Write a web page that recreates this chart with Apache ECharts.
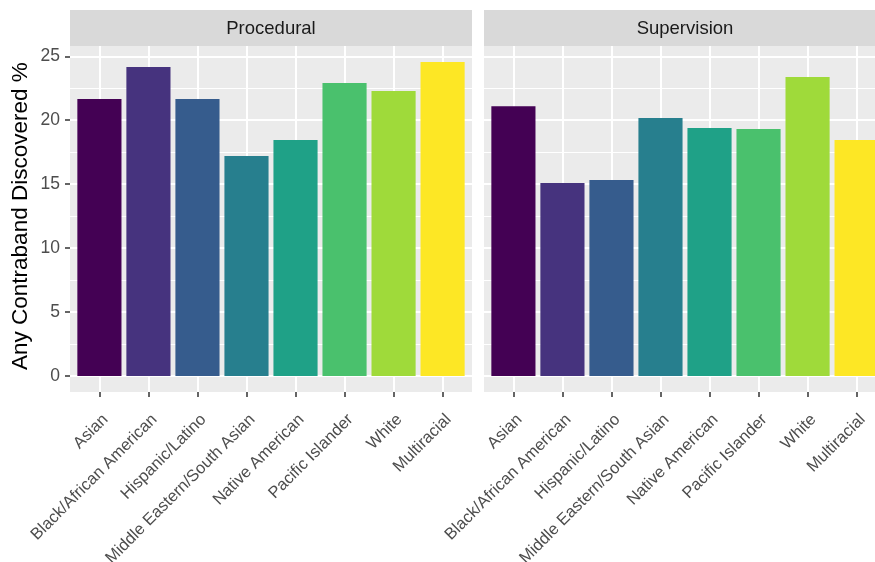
<!DOCTYPE html>
<html>
<head>
<meta charset="utf-8">
<script src="https://cdn.jsdelivr.net/npm/echarts@6/dist/echarts.min.js"></script>
<style>
html,body{margin:0;padding:0;background:#fff;}
#chart{width:875px;height:562px;}
</style>
</head>
<body>
<div id="chart"></div>
<script>
const categories = ['Asian','Black/African American','Hispanic/Latino','Middle Eastern/South Asian','Native American','Pacific Islander','White','Multiracial'];
const panelNames = ['Procedural','Supervision'];
const procedural = [21.66, 24.16, 21.66, 17.2, 18.45, 22.9, 22.28, 24.55];
const supervision = [21.1, 15.09, 15.32, 20.17, 19.39, 19.31, 23.38, 18.45];
const yTicks = [0, 5, 10, 15, 20, 25];
const palette = ['#440154','#46337E','#365C8D','#277F8E','#1FA187','#4AC16D','#9FDA3A','#FDE725'];
const seriesValues = [procedural, supervision];

const FONT = '"Liberation Sans", Arial, Helvetica, sans-serif';
const panelLeft = [70, 484];
const panelW = 402;
const panelTop = 46, panelH = 346;
const stripTop = 10, stripH = 36;
const unit = panelW / 8.2;
const yMax = yTicks[yTicks.length - 1];
const zeroY = 376, pxPerUnit = 12.79;
const dataTop = zeroY - yMax * pxPerUnit;
const dataH = yMax * pxPerUnit;

const grid = [], xAxis = [], yAxis = [], series = [], elements = [];

function box(left, top, width, height) {
  return {left:left, top:top, width:width, height:height, containLabel:false, outerBoundsMode:'none'};
}

panelNames.forEach((name, p) => {
  const L = panelLeft[p];
  elements.push({type:'rect', z:-5, shape:{x:L, y:panelTop, width:panelW, height:panelH}, style:{fill:'#EBEBEB'}});
  elements.push({type:'rect', z:-5, shape:{x:L, y:stripTop, width:panelW, height:stripH}, style:{fill:'#D9D9D9'}});
  elements.push({type:'text', z:5, x:L + panelW/2, y:stripTop + stripH/2 + 1, style:{text:name, fill:'#1A1A1A', font:'18.5px ' + FONT, textAlign:'center', textVerticalAlign:'middle'}});

  const gi = grid.length;
  grid.push(box(L, dataTop, panelW, dataH));
  xAxis.push({type:'value', gridIndex:gi, min:0.4, max:8.6, show:false});
  yAxis.push({
    type:'value', gridIndex:gi, min:yTicks[0], max:yMax, interval:5,
    axisLine:{show:false},
    axisTick:{show:p===0, length:5, lineStyle:{color:'#333333', width:1.5}},
    axisLabel:{show:p===0, color:'#4D4D4D', fontSize:17.5, fontFamily:FONT, margin:10},
    splitLine:{show:true, lineStyle:{color:'#FFFFFF', width:2}},
    minorTick:{show:false, splitNumber:2},
    minorSplitLine:{show:true, lineStyle:{color:'#FFFFFF', width:1}},
    name: p===0 ? 'Any Contraband Discovered %' : '',
    nameLocation:'middle', nameGap:38,
    nameTextStyle:{color:'#000000', fontSize:22.5, fontFamily:FONT}
  });
  series.push({
    type:'bar', xAxisIndex:gi, yAxisIndex:gi, barWidth:unit*0.9, z:3,
    data: seriesValues[p].map((v, i) => ({value:[i + 1, v], itemStyle:{color:palette[i]}}))
  });

  const vi = grid.length;
  grid.push(box(L + 0.6*unit, panelTop, 7*unit, panelH));
  xAxis.push({type:'category', gridIndex:vi, data:categories, boundaryGap:false,
    axisLine:{show:false},
    axisTick:{show:true, length:5, interval:0, lineStyle:{color:'#333333', width:1.5}},
    axisLabel:{show:false},
    splitLine:{show:true, interval:0, lineStyle:{color:'#FFFFFF', width:2}}
  });
  yAxis.push({type:'value', gridIndex:vi, show:false});
  series.push({type:'line', xAxisIndex:vi, yAxisIndex:vi, data:[], silent:true});

  const li = grid.length;
  grid.push(box(L + 0.6*unit + 6, panelTop, 7*unit, panelH));
  xAxis.push({type:'category', gridIndex:li, data:categories, boundaryGap:false,
    axisLine:{show:false}, axisTick:{show:false}, splitLine:{show:false},
    axisLabel:{show:true, interval:0, rotate:45, margin:25, color:'#4D4D4D', fontSize:16.5, fontFamily:FONT}
  });
  yAxis.push({type:'value', gridIndex:li, show:false});
  series.push({type:'line', xAxisIndex:li, yAxisIndex:li, data:[], silent:true});
});

const chart = echarts.init(document.getElementById('chart'), null, {renderer:'canvas'});
chart.setOption({
  animation:false,
  backgroundColor:'#FFFFFF',
  textStyle:{fontFamily:FONT},
  grid, xAxis, yAxis, series,
  graphic:{elements}
});
</script>
</body>
</html>
